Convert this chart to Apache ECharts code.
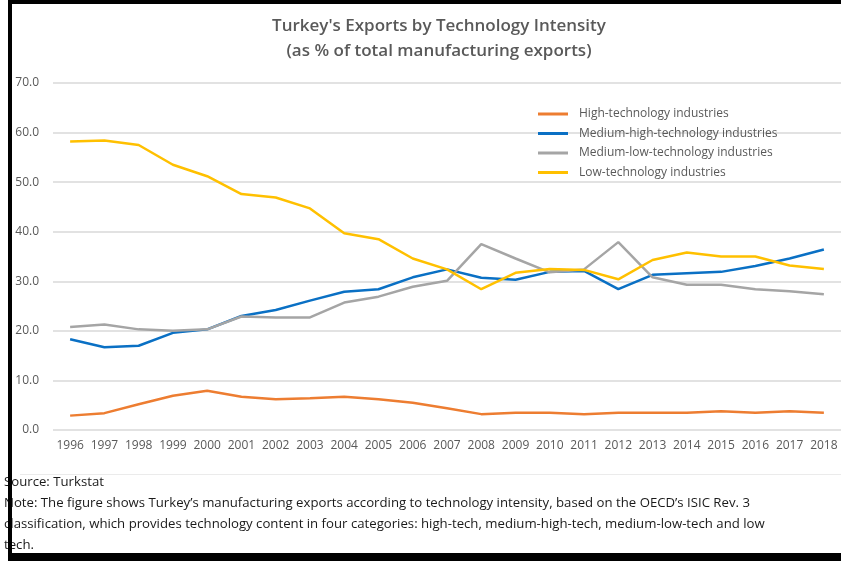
<!DOCTYPE html>
<html>
<head>
<meta charset="utf-8">
<script src="https://cdn.jsdelivr.net/npm/echarts@6/dist/echarts.min.js"></script>
<style type="text/css">
    html, body { margin: 0; padding: 0; background: #fff; }
    #chart_div { width: 841px; height: 565px; }
</style>
</head>
<body>
<div id="chart_div"></div>
<script>
    // values
    var years = ['1996','1997','1998','1999','2000','2001','2002','2003','2004','2005','2006','2007',
                 '2008','2009','2010','2011','2012','2013','2014','2015','2016','2017','2018'];
    var highTech = [2.9, 3.4, 5.2, 6.9, 7.9, 6.7, 6.2, 6.4, 6.7, 6.2, 5.5, 4.4,
                    3.2, 3.5, 3.5, 3.2, 3.5, 3.5, 3.5, 3.8, 3.5, 3.8, 3.5];
    var medHighTech = [18.3, 16.7, 17.0, 19.6, 20.3, 23.0, 24.2, 26.1, 27.9, 28.4, 30.8, 32.4,
                       30.7, 30.3, 31.9, 32.1, 28.4, 31.3, 31.6, 31.9, 33.1, 34.6, 36.4];
    var medLowTech = [20.8, 21.3, 20.3, 20.0, 20.3, 22.9, 22.7, 22.7, 25.7, 26.9, 28.9, 30.1,
                      37.5, 34.6, 31.8, 32.4, 37.9, 30.8, 29.3, 29.3, 28.4, 28.0, 27.4];
    var lowTech = [58.2, 58.4, 57.5, 53.5, 51.2, 47.6, 46.9, 44.7, 39.7, 38.5, 34.6, 32.4,
                   28.4, 31.7, 32.5, 32.3, 30.4, 34.3, 35.8, 35.0, 35.0, 33.2, 32.5];
    var seriesNames = ['High-technology industries', 'Medium-high-technology industries',
                       'Medium-low-technology industries', 'Low-technology industries'];
    var seriesColors = ['#ED7D31', '#0A70C4', '#A5A5A5', '#FFC000'];
    var seriesData = [highTech, medHighTech, medLowTech, lowTech];

    var noteLines = [
        'Source: Turkstat',
        'Note: The figure shows Turkey\u2019s manufacturing exports according to technology intensity, based on the OECD\u2019s ISIC Rev. 3',
        'classification, which provides technology content in four categories: high-tech, medium-high-tech, medium-low-tech and low',
        'tech.'
    ];

    var myFont = 'Open Sans';
    var myChart = echarts.init(document.getElementById('chart_div'));

    var lineSeries = seriesNames.map(function (name, i) {
        return {
            name: name,
            type: 'line',
            symbol: 'none',
            data: seriesData[i],
            color: seriesColors[i],
            lineStyle: { width: 2.5, color: seriesColors[i] },
            z: 3 + i
        };
    });

    var noteGraphics = noteLines.map(function (txt, i) {
        return {
            type: 'text',
            left: 4,
            top: 476 + i * 21,
            z: 5,
            style: {
                text: txt,
                fill: '#1a1a1a',
                font: '13.2px "Open Sans", sans-serif'
            }
        };
    });

    // black frame of the screenshot
    var frameGraphics = [
        { type: 'rect', shape: { x: 8, y: 0, width: 833, height: 4 }, style: { fill: '#000' }, z: 20 },
        { type: 'rect', shape: { x: 8, y: 0, width: 4, height: 560 }, style: { fill: '#000' }, z: 20 },
        { type: 'rect', shape: { x: 8, y: 553, width: 833, height: 8 }, style: { fill: '#000' }, z: 20 },
        { type: 'rect', shape: { x: 20, y: 474, width: 821, height: 1 }, style: { fill: '#EBEBEB' }, z: 2 }
    ];

    var option = {
        backgroundColor: '#fff',
        animation: false,
        title: {
            text: "Turkey's Exports by Technology Intensity\n(as % of total manufacturing exports)",
            left: 434,
            top: 9,
            textAlign: 'center',
            textStyle: {
                fontFamily: myFont,
                fontSize: 17,
                fontWeight: 600,
                color: '#595959',
                lineHeight: 25
            }
        },
        legend: {
            orient: 'vertical',
            left: 533,
            top: 102,
            icon: 'rect',
            itemWidth: 30,
            itemHeight: 3,
            itemGap: 5.5,
            data: seriesNames,
            textStyle: {
                fontFamily: myFont,
                fontSize: 12,
                lineHeight: 14,
                color: '#595959',
                padding: [0, 0, 0, 6]
            }
        },
        grid: {
            left: 53,
            right: -4,
            top: 83,
            bottom: 135,
            containLabel: false
        },
        xAxis: {
            type: 'category',
            data: years,
            boundaryGap: true,
            axisLine: { show: false },
            axisTick: { show: false },
            axisLabel: {
                interval: 0,
                margin: 10,
                fontFamily: myFont,
                fontSize: 12,
                color: '#595959'
            }
        },
        yAxis: {
            type: 'value',
            min: 0,
            max: 70,
            interval: 10,
            axisLine: { show: false },
            axisTick: { show: false },
            axisLabel: {
                margin: 14,
                fontFamily: myFont,
                fontSize: 12,
                color: '#595959',
                formatter: function (v) { return v.toFixed(1); }
            },
            splitLine: { lineStyle: { color: '#D9D9D9', width: 1.5 } }
        },
        graphic: noteGraphics.concat(frameGraphics),
        series: lineSeries
    };

    myChart.setOption(option);
</script>
</body>
</html>
